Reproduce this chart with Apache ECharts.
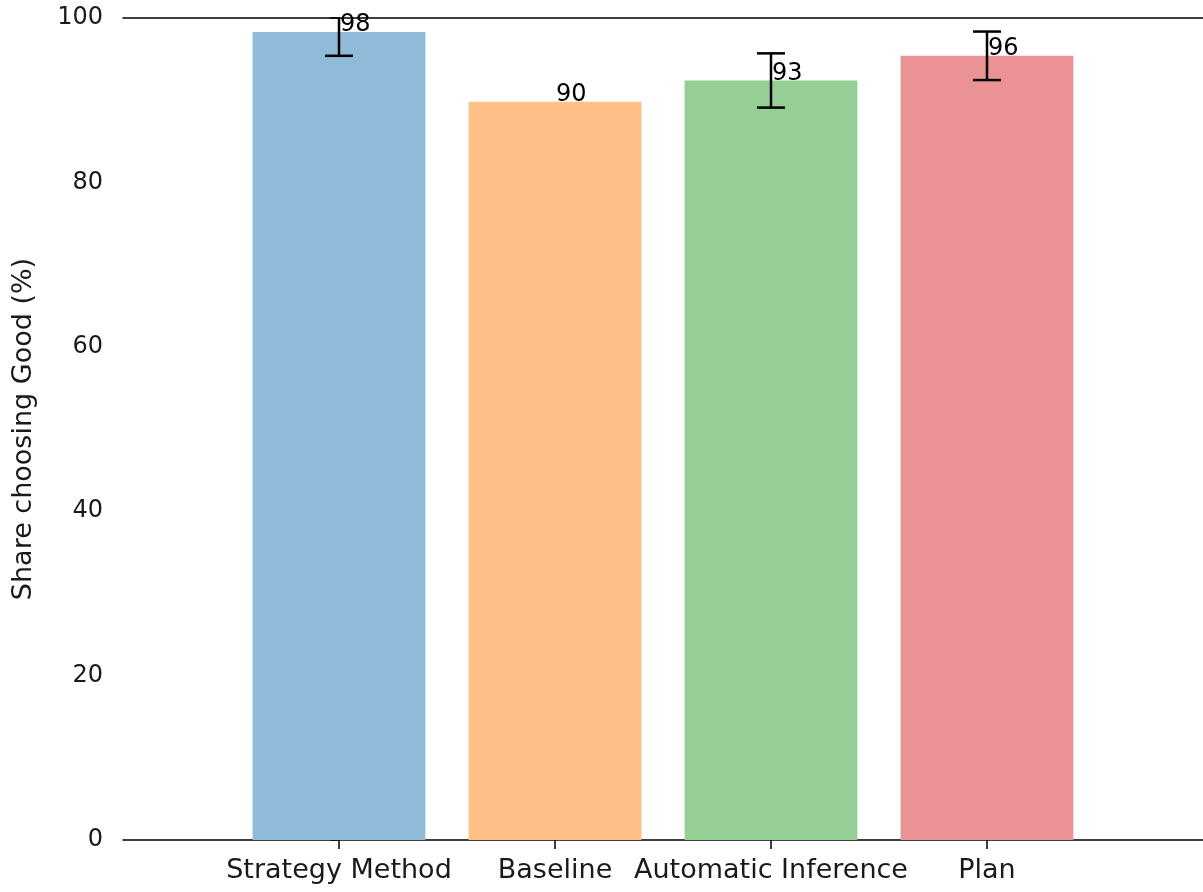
<!DOCTYPE html>
<html>
<head>
<meta charset="utf-8">
<title>Share choosing Good</title>
<script src="https://cdn.jsdelivr.net/npm/echarts@6/dist/echarts.min.js"></script>
<style>
  html, body { margin: 0; padding: 0; background: #ffffff; }
  #chart { width: 1203px; height: 892px; }
</style>
</head>
<body>
<div id="chart"></div>
<script>
// Treatments and their share of participants choosing "Good" (%)
const categories = ['Strategy Method', 'Baseline', 'Automatic Inference', 'Plan'];
const shares = [98.3, 89.8, 92.4, 95.4];
const errors = [2.9, 0, 3.3, 2.95];
const valueLabels = ['98', '90', '93', '96'];
const barColors = ['#8fbbd9', '#ffbf86', '#95cf95', '#eb9394'];
const yTicks = [0, 20, 40, 60, 80, 100];

const FONT = 'DejaVu Sans';
const FS_TICK = 24;
const FS_TEXT = 27;
const BAR_WIDTH = 0.8;           // in category units
const X_MIN = -1, X_MAX = 4;

const positions = categories.map((_, i) => i);
const barData = shares.map((v, i) => [i, v, errors[i], valueLabels[i]]);

const chart = echarts.init(document.getElementById('chart'), null, { renderer: 'canvas' });

const option = {
  animation: false,
  backgroundColor: '#ffffff',
  grid: { left: 123, right: -2, top: 18, bottom: 52, containLabel: false },
  xAxis: [
    {
      type: 'value',
      position: 'bottom',
      min: X_MIN,
      max: X_MAX,
      splitLine: { show: false },
      axisLine: { show: true, onZero: false, lineStyle: { color: '#000', width: 1.5 } },
      axisTick: { show: true, length: 9, lineStyle: { color: '#000', width: 1.5 }, customValues: positions },
      axisLabel: {
        show: true,
        customValues: positions,
        margin: 17,
        color: '#1a1a1a',
        fontFamily: FONT,
        fontSize: FS_TEXT,
        formatter: v => categories[Math.round(v)] || ''
      }
    },
    {
      type: 'value',
      position: 'top',
      min: X_MIN,
      max: X_MAX,
      splitLine: { show: false },
      axisLine: { show: true, onZero: false, lineStyle: { color: '#000', width: 1.5 } },
      axisTick: { show: false },
      axisLabel: { show: false }
    }
  ],
  yAxis: {
    type: 'value',
    min: 0,
    max: 100,
    interval: 20,
    splitLine: { show: false },
    axisLine: { show: true, lineStyle: { color: '#000', width: 1.5 } },
    axisTick: { show: true, length: 9, lineStyle: { color: '#000', width: 1.5 }, customValues: yTicks },
    axisLabel: {
      margin: 20,
      color: '#1a1a1a',
      fontFamily: FONT,
      fontSize: FS_TICK
    },
    name: 'Share choosing Good (%)',
    nameLocation: 'middle',
    nameGap: 86,
    nameTextStyle: { color: '#1a1a1a', fontFamily: FONT, fontSize: FS_TEXT }
  },
  series: [
    {
      // bars
      type: 'custom',
      xAxisIndex: 0,
      clip: true,
      data: barData,
      renderItem: (params, api) => {
        const i = api.value(0);
        const v = api.value(1);
        const left = api.coord([i - BAR_WIDTH / 2, v]);
        const right = api.coord([i + BAR_WIDTH / 2, 0]);
        return {
          type: 'rect',
          shape: { x: left[0], y: left[1], width: right[0] - left[0], height: right[1] - left[1] },
          style: { fill: barColors[params.dataIndex] }
        };
      },
      z: 2
    },
    {
      // error bars with caps
      type: 'custom',
      xAxisIndex: 0,
      clip: true,
      data: barData,
      renderItem: (params, api) => {
        const i = api.value(0);
        const v = api.value(1);
        const e = api.value(2);
        if (!e) return null;
        const hi = api.coord([i, v + e]);
        const lo = api.coord([i, v - e]);
        const cap = 14;
        const st = { stroke: '#000', lineWidth: 2.5 };
        return {
          type: 'group',
          children: [
            { type: 'line', shape: { x1: hi[0], y1: hi[1], x2: lo[0], y2: lo[1] }, style: st },
            { type: 'line', shape: { x1: hi[0] - cap, y1: hi[1], x2: hi[0] + cap, y2: hi[1] }, style: st },
            { type: 'line', shape: { x1: lo[0] - cap, y1: lo[1], x2: lo[0] + cap, y2: lo[1] }, style: st }
          ]
        };
      },
      z: 3
    },
    {
      // value labels, anchored at bar centre on the bar's top
      type: 'custom',
      xAxisIndex: 0,
      clip: false,
      data: barData,
      renderItem: (params, api) => {
        const p = api.coord([api.value(0), api.value(1)]);
        return {
          type: 'text',
          x: p[0] + 1,
          y: p[1] + 5,
          style: {
            text: valueLabels[params.dataIndex],
            fill: '#000',
            font: FS_TICK + 'px "' + FONT + '"',
            textAlign: 'left',
            textVerticalAlign: 'bottom'
          }
        };
      },
      z: 10
    }
  ]
};

chart.setOption(option);
</script>
</body>
</html>
